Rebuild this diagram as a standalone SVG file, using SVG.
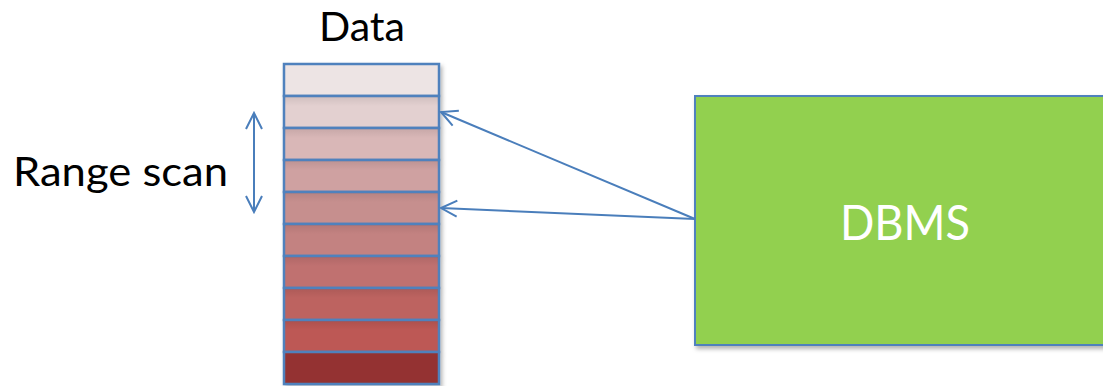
<svg xmlns="http://www.w3.org/2000/svg" width="1103" height="386" viewBox="0 0 1103 386">
<defs>
<style>
.cell{stroke:#4f81bd;stroke-width:2.5}
.lbl{font-family:Lato,"Open Sans","Liberation Sans",sans-serif;fill:#000}
.conn{stroke:#4a7ebb;stroke-width:2;fill:none}
</style>
<marker id="ah" viewBox="0 0 20 20" refX="18" refY="10" markerWidth="20" markerHeight="20" markerUnits="userSpaceOnUse" orient="auto-start-reverse">
<path d="M2,2 L18,10 L2,18" fill="none" stroke="#4a7ebb" stroke-width="2"/>
</marker>
<linearGradient id="sh" x1="0" y1="0" x2="0" y2="1">
<stop offset="0" stop-color="#000" stop-opacity="0.08"/>
<stop offset="0.3" stop-color="#000" stop-opacity="0"/>
</linearGradient>
<filter id="ds" x="-5%" y="-5%" width="115%" height="115%">
<feDropShadow dx="2" dy="3" stdDeviation="2" flood-color="#000" flood-opacity="0.3"/>
</filter>
</defs>
<g id="data-label"><text class="lbl" x="362" y="41" font-size="40" text-anchor="middle" textLength="86" lengthAdjust="spacingAndGlyphs">Data</text></g>
<g id="data-stack" filter="url(#ds)">
<rect class="cell" x="284" y="64" width="155" height="32" fill="#ede4e4"/>
<rect class="cell" x="284" y="96" width="155" height="32" fill="#e3d0d0"/>
<rect class="cell" x="284" y="128" width="155" height="32" fill="#d9b7b7"/>
<rect class="cell" x="284" y="160" width="155" height="32" fill="#cfa1a1"/>
<rect class="cell" x="284" y="192" width="155" height="32" fill="#c68f8e"/>
<rect class="cell" x="284" y="224" width="155" height="32" fill="#c38281"/>
<rect class="cell" x="284" y="256" width="155" height="32" fill="#c0716f"/>
<rect class="cell" x="284" y="288" width="155" height="32" fill="#bd6461"/>
<rect class="cell" x="284" y="320" width="155" height="32" fill="#bd5855"/>
<rect class="cell" x="284" y="352" width="155" height="32" fill="#943333"/>
</g>
<g id="data-shade" pointer-events="none">
<rect x="285" y="97" width="153" height="30" fill="url(#sh)"/>
<rect x="285" y="129" width="153" height="30" fill="url(#sh)"/>
<rect x="285" y="161" width="153" height="30" fill="url(#sh)"/>
<rect x="285" y="193" width="153" height="30" fill="url(#sh)"/>
<rect x="285" y="225" width="153" height="30" fill="url(#sh)"/>
<rect x="285" y="257" width="153" height="30" fill="url(#sh)"/>
<rect x="285" y="289" width="153" height="30" fill="url(#sh)"/>
<rect x="285" y="321" width="153" height="30" fill="url(#sh)"/>
</g>
<g id="range-scan">
<text class="lbl" x="13" y="186" font-size="41" textLength="215" lengthAdjust="spacingAndGlyphs">Range scan</text>
<line class="conn" x1="254" y1="113" x2="254" y2="212" marker-start="url(#ah)" marker-end="url(#ah)"/>
</g>
<g id="dbms">
<rect x="695" y="96" width="420" height="249" fill="#92d050" stroke="#4f81bd" stroke-width="2" filter="url(#ds)"/>
<text x="905" y="240" font-family="Lato,'Open Sans','Liberation Sans',sans-serif" font-size="48" fill="#fff" text-anchor="middle" textLength="130" lengthAdjust="spacingAndGlyphs">DBMS</text>
</g>
<g id="connectors">
<line class="conn" x1="695" y1="219" x2="441" y2="112" marker-end="url(#ah)"/>
<line class="conn" x1="695" y1="219" x2="441" y2="208" marker-end="url(#ah)"/>
</g>
</svg>
